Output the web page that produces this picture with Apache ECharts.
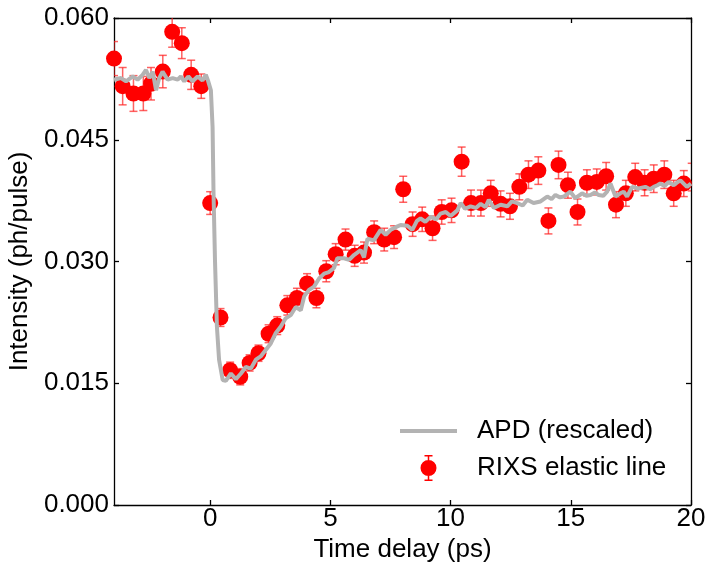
<!DOCTYPE html>
<html><head><meta charset="utf-8">
<script src="https://cdn.jsdelivr.net/npm/echarts@6/dist/echarts.min.js"></script>
<style>html,body{margin:0;padding:0;background:#fff}#c{width:707px;height:567px}</style>
</head><body><div id="c"></div>
<script>
// APD trace (rescaled)
const apdX = [-4.0,-3.71,-3.5,-3.22,-3.02,-2.81,-2.67,-2.53,-2.39,-2.25,-2.12,-1.98,-1.77,-1.56,-1.35,-1.22,-1.08,-0.91,-0.73,-0.52,-0.32,-0.18,-0.08,0.03,0.10,0.14,0.20,0.28,0.37,0.52,0.65,0.86,1.07,1.28,1.48,1.69,1.90,2.10,2.31,2.52,2.73,2.94,3.14,3.35,3.56,3.77,3.91,4.11,4.32,4.53,4.74,4.94,5.15,5.29,5.57,5.78,5.98,6.26,6.40,6.54,6.81,7.09,7.30,7.51,7.70,7.92,8.20,8.41,8.60,8.75,8.95,9.17,9.40,9.58,9.80,10.0,10.28,10.42,10.60,10.83,11.05,11.25,11.45,11.59,11.80,12.08,12.36,12.55,12.77,13.0,13.19,13.45,13.74,14.02,14.20,14.36,14.55,14.71,14.98,15.19,15.47,15.65,15.82,16.0,16.16,16.35,16.51,16.65,16.86,17.06,17.20,17.34,17.55,17.82,18.10,18.30,18.45,18.60,18.72,18.90,19.07,19.28,19.45,19.56,19.83,20.0];
const apdY = [0.0524,0.0526,0.0522,0.0528,0.0524,0.0530,0.0536,0.0526,0.0534,0.0511,0.0526,0.0534,0.0524,0.0526,0.0524,0.0528,0.0522,0.0528,0.0522,0.0528,0.0523,0.0530,0.0522,0.0511,0.0466,0.0384,0.0302,0.0220,0.0179,0.0154,0.0153,0.0162,0.0155,0.0162,0.0170,0.0168,0.0179,0.0183,0.0191,0.0199,0.0212,0.0220,0.0230,0.0234,0.0244,0.0240,0.0257,0.0265,0.0269,0.0279,0.0285,0.0287,0.0292,0.0304,0.0304,0.0302,0.0308,0.0314,0.0305,0.0328,0.0326,0.0339,0.0333,0.0339,0.0342,0.0345,0.0344,0.0339,0.0350,0.0353,0.0349,0.0355,0.0352,0.0359,0.0361,0.0356,0.0363,0.0372,0.0365,0.0368,0.0366,0.0371,0.0367,0.0376,0.0366,0.0370,0.0368,0.0374,0.0372,0.0369,0.0376,0.0372,0.0374,0.0380,0.0377,0.0382,0.0379,0.0380,0.0386,0.0378,0.0384,0.0381,0.0382,0.0385,0.0382,0.0381,0.0386,0.0396,0.0380,0.0384,0.0386,0.0380,0.0392,0.0390,0.0392,0.0389,0.0392,0.0394,0.0396,0.0393,0.0398,0.0394,0.0398,0.0400,0.0392,0.0396];
// RIXS elastic line
const rixsX = [-4.0,-3.64,-3.19,-2.78,-2.46,-1.97,-1.58,-1.18,-0.79,-0.37,0.0,0.43,0.83,1.25,1.64,2.01,2.43,2.79,3.21,3.61,4.03,4.42,4.83,5.22,5.63,6.01,6.40,6.82,7.24,7.65,8.03,8.42,8.82,9.25,9.63,10.04,10.46,10.85,11.26,11.67,12.08,12.47,12.86,13.24,13.65,14.07,14.49,14.88,15.28,15.67,16.08,16.47,16.88,17.29,17.68,18.07,18.45,18.89,19.28,19.70,20.03];
const rixsY = [0.0550,0.0516,0.0507,0.0507,0.0519,0.0534,0.0583,0.0569,0.0530,0.0516,0.0372,0.0231,0.0166,0.0158,0.0175,0.0187,0.0211,0.0221,0.0246,0.0255,0.0273,0.0255,0.0288,0.0309,0.0327,0.0307,0.0311,0.0336,0.0327,0.0330,0.0389,0.0346,0.0352,0.0341,0.0361,0.0363,0.0423,0.0372,0.0372,0.0384,0.0371,0.0368,0.0392,0.0407,0.0412,0.0350,0.0419,0.0394,0.0361,0.0397,0.0398,0.0405,0.0370,0.0384,0.0404,0.0397,0.0402,0.0407,0.0384,0.0396,0.0404];
const rixsErr = [0.0021,0.0023,0.0022,0.0021,0.0020,0.0020,0.0019,0.0019,0.0018,0.0015,0.0014,0.0011,0.0010,0.0010,0.0010,0.0010,0.0011,0.0011,0.0012,0.0012,0.0012,0.0012,0.0013,0.0013,0.0013,0.0013,0.0013,0.0014,0.0014,0.0014,0.0016,0.0015,0.0015,0.0015,0.0015,0.0015,0.0018,0.0016,0.0016,0.0016,0.0016,0.0016,0.0016,0.0017,0.0017,0.0016,0.0017,0.0016,0.0016,0.0016,0.0016,0.0017,0.0016,0.0016,0.0017,0.0016,0.0017,0.0017,0.0016,0.0016,0.0017];
const xTicks = [0,5,10,15,20];
const yTicks = [0,0.015,0.030,0.045,0.060];

const FONT = 'Liberation Sans';
const FS = 26;
const chart = echarts.init(document.getElementById('c'), null, {renderer:'canvas'});
const axLine = {show:true, onZero:false, lineStyle:{color:'#000', width:1.3}};
const tick = (vals) => ({show:true, inside:true, length:5, customValues:vals, lineStyle:{color:'#000', width:1.3}});
const errColor = 'rgba(255,30,30,0.7)';
// legend glyphs (72 px wide boxes so the text starts 20 px after the visible glyph)
const iconApd = 'path://M0,0h57v4h-57Z M71.95,1.95h0.05v0.05h-0.05Z';
const iconRixs = 'path://M27.75,0h1.5v26h-1.5Z M24.5,0h8v1.5h-8Z M24.5,24.5h8v1.5h-8Z M36.5,13A8,8,0,1,1,20.5,13A8,8,0,1,1,36.5,13Z M0,12.95h0.05v0.05h-0.05Z M71.95,12.95h0.05v0.05h-0.05Z';
const legText = {fontSize:FS, color:'#000', fontFamily:FONT};

chart.setOption({
  animation:false,
  backgroundColor:'#fff',
  grid:{left:114, right:16, top:18, bottom:62, containLabel:false, outerBoundsMode:'none'},
  textStyle:{fontFamily:FONT},
  legend:[
    {data:[{name:'APD (rescaled)', icon:iconApd, itemStyle:{color:'#b3b3b3', borderWidth:0}, lineStyle:{width:0}}],
     left:400, top:418, padding:0, itemWidth:72, itemHeight:4, orient:'vertical', textStyle:legText},
    {data:[{name:'RIXS elastic line', icon:iconRixs, itemStyle:{color:'#ff0000', borderWidth:0}}],
     left:400, top:455, padding:0, itemWidth:72, itemHeight:26, orient:'vertical', textStyle:legText}
  ],
  xAxis:[
    {type:'value', min:-4, max:20, position:'bottom', axisLine:axLine, axisTick:tick(xTicks),
     axisLabel:{customValues:xTicks, fontSize:FS, color:'#000', margin:1, fontFamily:FONT},
     splitLine:{show:false}, name:'Time delay (ps)', nameLocation:'middle', nameGap:31,
     nameTextStyle:{fontSize:FS, color:'#000', fontFamily:FONT}},
    {type:'value', min:-4, max:20, position:'top', axisLine:axLine, axisTick:tick(xTicks),
     axisLabel:{show:false}, splitLine:{show:false}}
  ],
  yAxis:[
    {type:'value', min:0, max:0.06, position:'left', axisLine:axLine, axisTick:tick(yTicks),
     axisLabel:{customValues:yTicks, fontSize:FS, color:'#000', margin:5, fontFamily:FONT, formatter:v=>v.toFixed(3)},
     splitLine:{show:false}, name:'Intensity (ph/pulse)', nameLocation:'middle', nameGap:70,
     nameTextStyle:{fontSize:FS, color:'#000', fontFamily:FONT}},
    {type:'value', min:0, max:0.06, position:'right', axisLine:axLine, axisTick:tick(yTicks),
     axisLabel:{show:false}, splitLine:{show:false}}
  ],
  series:[
    {name:'RIXS error', type:'custom', xAxisIndex:0, yAxisIndex:0, z:2, clip:true,
     data: rixsX.map((x,i)=>[x, rixsY[i]-rixsErr[i], rixsY[i]+rixsErr[i]]),
     renderItem:(params, api)=>{
       const lo = api.coord([api.value(0), api.value(1)]);
       const hi = api.coord([api.value(0), api.value(2)]);
       const c = 4;
       const st = {stroke:errColor, lineWidth:1.5, fill:null};
       return {type:'group', children:[
         {type:'line', shape:{x1:lo[0], y1:lo[1], x2:hi[0], y2:hi[1]}, style:st},
         {type:'line', shape:{x1:lo[0]-c, y1:lo[1], x2:lo[0]+c, y2:lo[1]}, style:st},
         {type:'line', shape:{x1:hi[0]-c, y1:hi[1], x2:hi[0]+c, y2:hi[1]}, style:st}
       ]};
     }, silent:true},
    {name:'RIXS elastic line', type:'scatter', xAxisIndex:0, yAxisIndex:0, z:3, clip:true,
     symbol:'circle', symbolSize:16, itemStyle:{color:'#ff0000', opacity:1},
     data: rixsX.map((x,i)=>[x, rixsY[i]])},
    {name:'APD (rescaled)', type:'line', xAxisIndex:0, yAxisIndex:0, z:4, clip:true,
     symbol:'none', showSymbol:false, lineStyle:{color:'#b3b3b3', width:4}, itemStyle:{color:'#b3b3b3'},
     data: apdX.map((x,i)=>[x, apdY[i]])}
  ]
});
</script></body></html>
